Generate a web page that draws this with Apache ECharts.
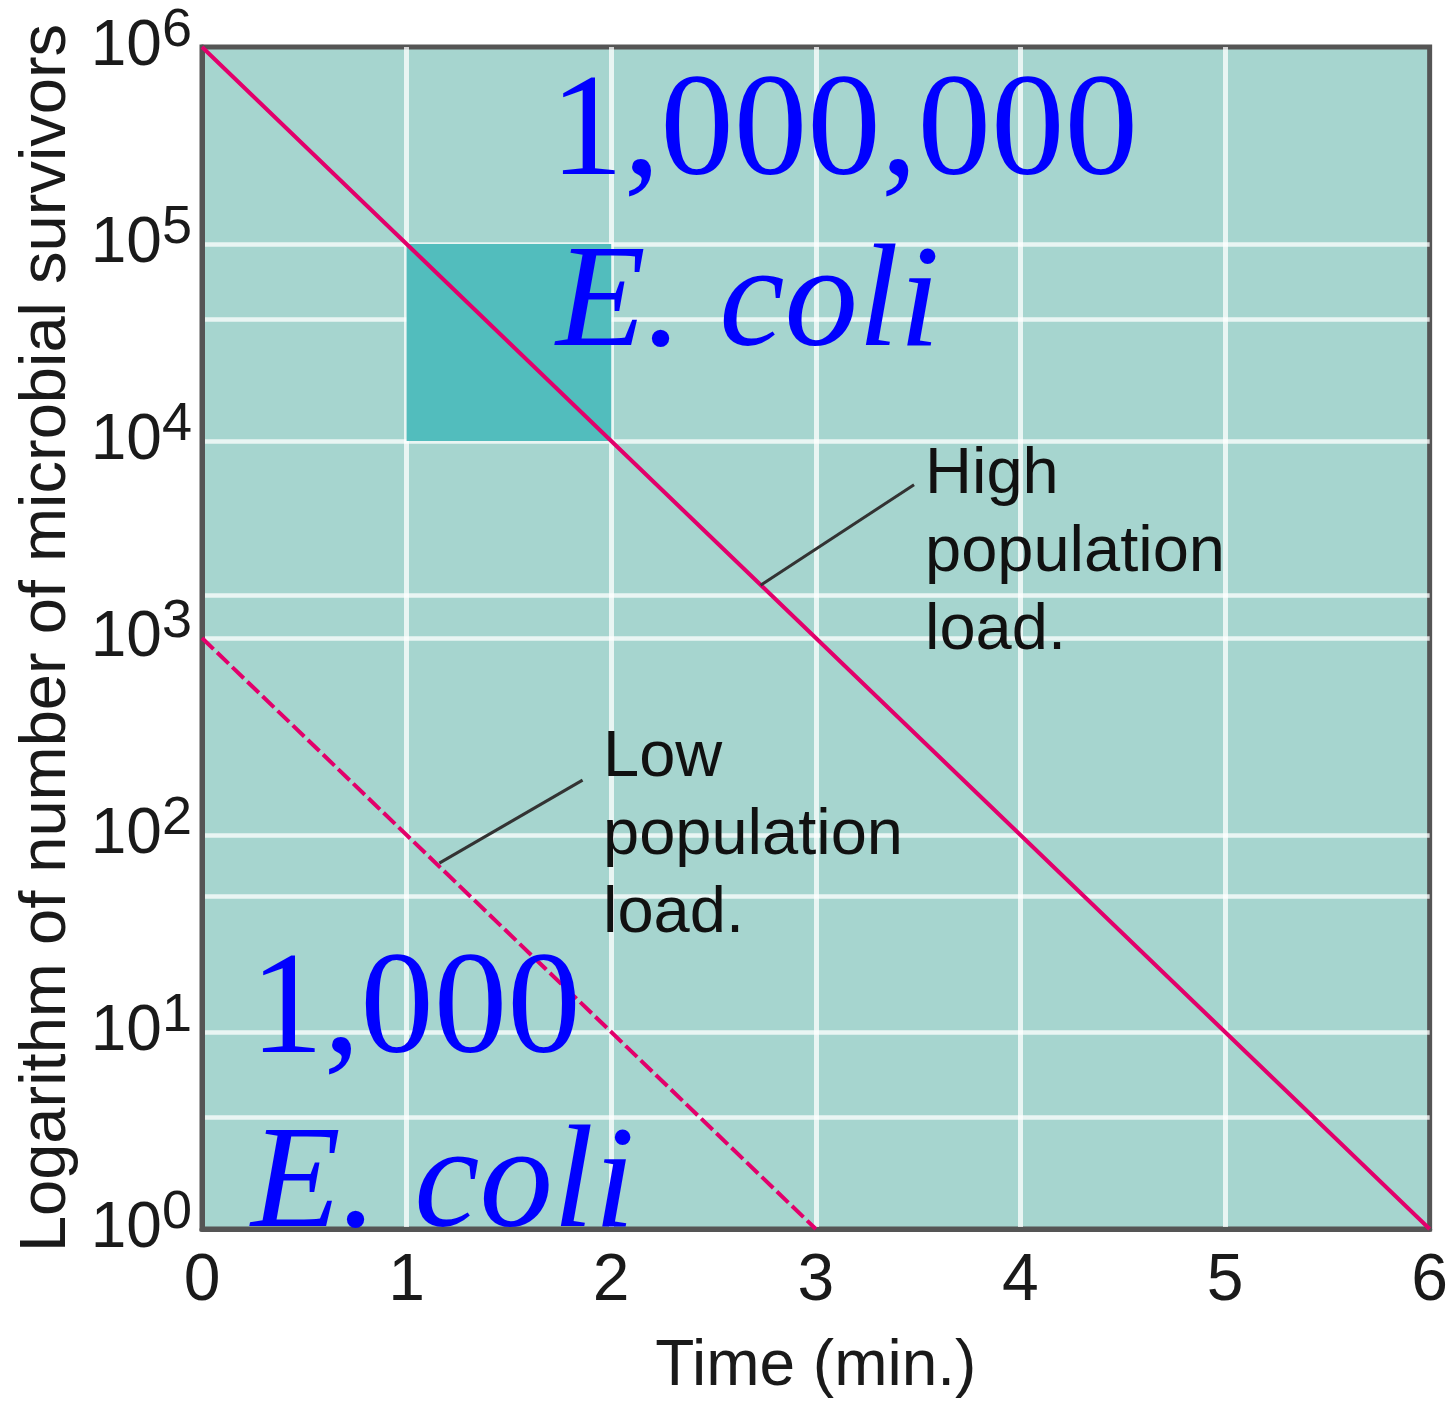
<!DOCTYPE html>
<html>
<head>
<meta charset="utf-8">
<script src="https://cdn.jsdelivr.net/npm/echarts@6/dist/echarts.min.js"></script>
<style>
html,body{margin:0;padding:0;background:#fff;}
#chart{width:1451px;height:1404px;}
</style>
</head>
<body>
<div id="chart"></div>
<script>
// ---- data ----
const highTimes = [0, 1, 2, 3, 4, 5, 6];
const highSurvivors = [1e6, 1e5, 1e4, 1e3, 1e2, 1e1, 1e0];
const lowTimes = [0, 1, 2, 3];
const lowSurvivors = [1e3, 1e2, 1e1, 1e0];
const highlightTime = [1, 2];
const highlightSurvivors = [1e4, 1e5];
const extraGridValues = [41700, 1650, 49, 3.7];
const highLeader = [[3.48, 6000], [2.73, 1850]];
const lowLeader = [[1.86, 190], [1.16, 72]];
const xTicks = [0, 1, 2, 3, 4, 5, 6];
const highLabel = 'High\npopulation\nload.';
const lowLabel = 'Low\npopulation\nload.';
const bigTopNumber = '1,000,000';
const bigLowNumber = '1,000';
const organism = 'E. coli';

const chart = echarts.init(document.getElementById('chart'), null, {renderer: 'canvas'});
const crimson = '#E2006B';
const gridLine = 'rgba(255,255,255,0.75)';
const sans = 'Liberation Sans, Arial, sans-serif';
const serif = 'Liberation Serif, Times New Roman, serif';

const option = {
  backgroundColor: '#ffffff',
  animation: false,
  grid: {
    left: 202, right: 13, top: 47, bottom: 169,
    show: true, backgroundColor: '#A6D5CF', borderColor: '#555555', borderWidth: 5
  },
  xAxis: {
    type: 'value', min: xTicks[0], max: xTicks[xTicks.length - 1], interval: 1,
    axisLine: {show: true, lineStyle: {color: '#555555', width: 5}},
    axisTick: {show: false},
    axisLabel: {fontSize: 66, color: '#1a1a1a', margin: 20, fontFamily: sans},
    splitLine: {show: true, showMinLine: false, showMaxLine: false, lineStyle: {color: gridLine, width: 5}},
    name: 'Time (min.)', nameLocation: 'middle', nameGap: 106,
    nameTextStyle: {fontSize: 64, color: '#1a1a1a', fontFamily: sans}
  },
  yAxis: {
    type: 'log', logBase: 10, min: 1, max: 1e6,
    axisLine: {show: true, lineStyle: {color: '#555555', width: 5}},
    axisTick: {show: false},
    axisLabel: {
      margin: 10,
      formatter: function (v) { return '{b|10}{s|' + Math.round(Math.log10(v)) + '}'; },
      rich: {
        b: {fontSize: 64, color: '#1a1a1a', fontFamily: sans},
        s: {fontSize: 54, color: '#1a1a1a', fontFamily: sans, padding: [0, 0, 32, 0]}
      }
    },
    splitLine: {show: true, showMinLine: false, showMaxLine: false, lineStyle: {color: gridLine, width: 4.5}},
    name: 'Logarithm of number of microbial survivors', nameLocation: 'middle', nameGap: 122,
    nameTextStyle: {fontSize: 65, color: '#1a1a1a', fontFamily: sans}
  },
  series: [
    {
      type: 'line', data: [], silent: true, z: 1,
      markLine: {
        silent: true, z: 0, symbol: ['none', 'none'], label: {show: false},
        lineStyle: {color: gridLine, width: 4.5, type: 'solid'},
        data: extraGridValues.map(v => ({yAxis: v}))
      },
      markArea: {
        silent: true, z: 1,
        itemStyle: {color: '#52BDBD', opacity: 1},
        data: [[{coord: [highlightTime[0], highlightSurvivors[0]]}, {coord: [highlightTime[1], highlightSurvivors[1]]}]]
      }
    },
    {
      name: 'High population load', type: 'line', z: 3, showSymbol: false, silent: true,
      data: highTimes.map((t, i) => [t, highSurvivors[i]]),
      lineStyle: {color: crimson, width: 4},
      markLine: {
        silent: true, z: 4, symbol: ['none', 'none'], label: {show: false},
        lineStyle: {color: '#333333', width: 3, type: 'solid'},
        data: [[{coord: highLeader[0]}, {coord: highLeader[1]}], [{coord: lowLeader[0]}, {coord: lowLeader[1]}]]
      }
    },
    {
      name: 'Low population load', type: 'line', z: 3, showSymbol: false, silent: true,
      data: lowTimes.map((t, i) => [t, lowSurvivors[i]]),
      lineStyle: {color: crimson, width: 4, type: [16, 5]}
    }
  ],
  graphic: [
    {type: 'text', x: 925, y: 436, z: 10, silent: true,
      style: {text: highLabel, fontSize: 65, lineHeight: 78, fill: '#111', fontFamily: sans, align: 'left', verticalAlign: 'top'}},
    {type: 'text', x: 603, y: 719, z: 10, silent: true,
      style: {text: lowLabel, fontSize: 65, lineHeight: 78, fill: '#111', fontFamily: sans, align: 'left', verticalAlign: 'top'}},
    {type: 'text', x: 550, y: 135, z: 10, silent: true,
      style: {text: bigTopNumber, fontSize: 147, fill: '#0000FF', fontFamily: serif, align: 'left', verticalAlign: 'middle'}},
    {type: 'text', x: 556, y: 306, z: 10, silent: true,
      style: {text: organism, fontSize: 147, fontStyle: 'italic', fill: '#0000FF', fontFamily: serif, align: 'left', verticalAlign: 'middle'}},
    {type: 'text', x: 250, y: 1013, z: 10, silent: true,
      style: {text: bigLowNumber, fontSize: 147, fill: '#0000FF', fontFamily: serif, align: 'left', verticalAlign: 'middle'}},
    {type: 'text', x: 251, y: 1187, z: 10, silent: true,
      style: {text: organism, fontSize: 147, fontStyle: 'italic', fill: '#0000FF', fontFamily: serif, align: 'left', verticalAlign: 'middle'}}
  ]
};
chart.setOption(option);
</script>
</body>
</html>
